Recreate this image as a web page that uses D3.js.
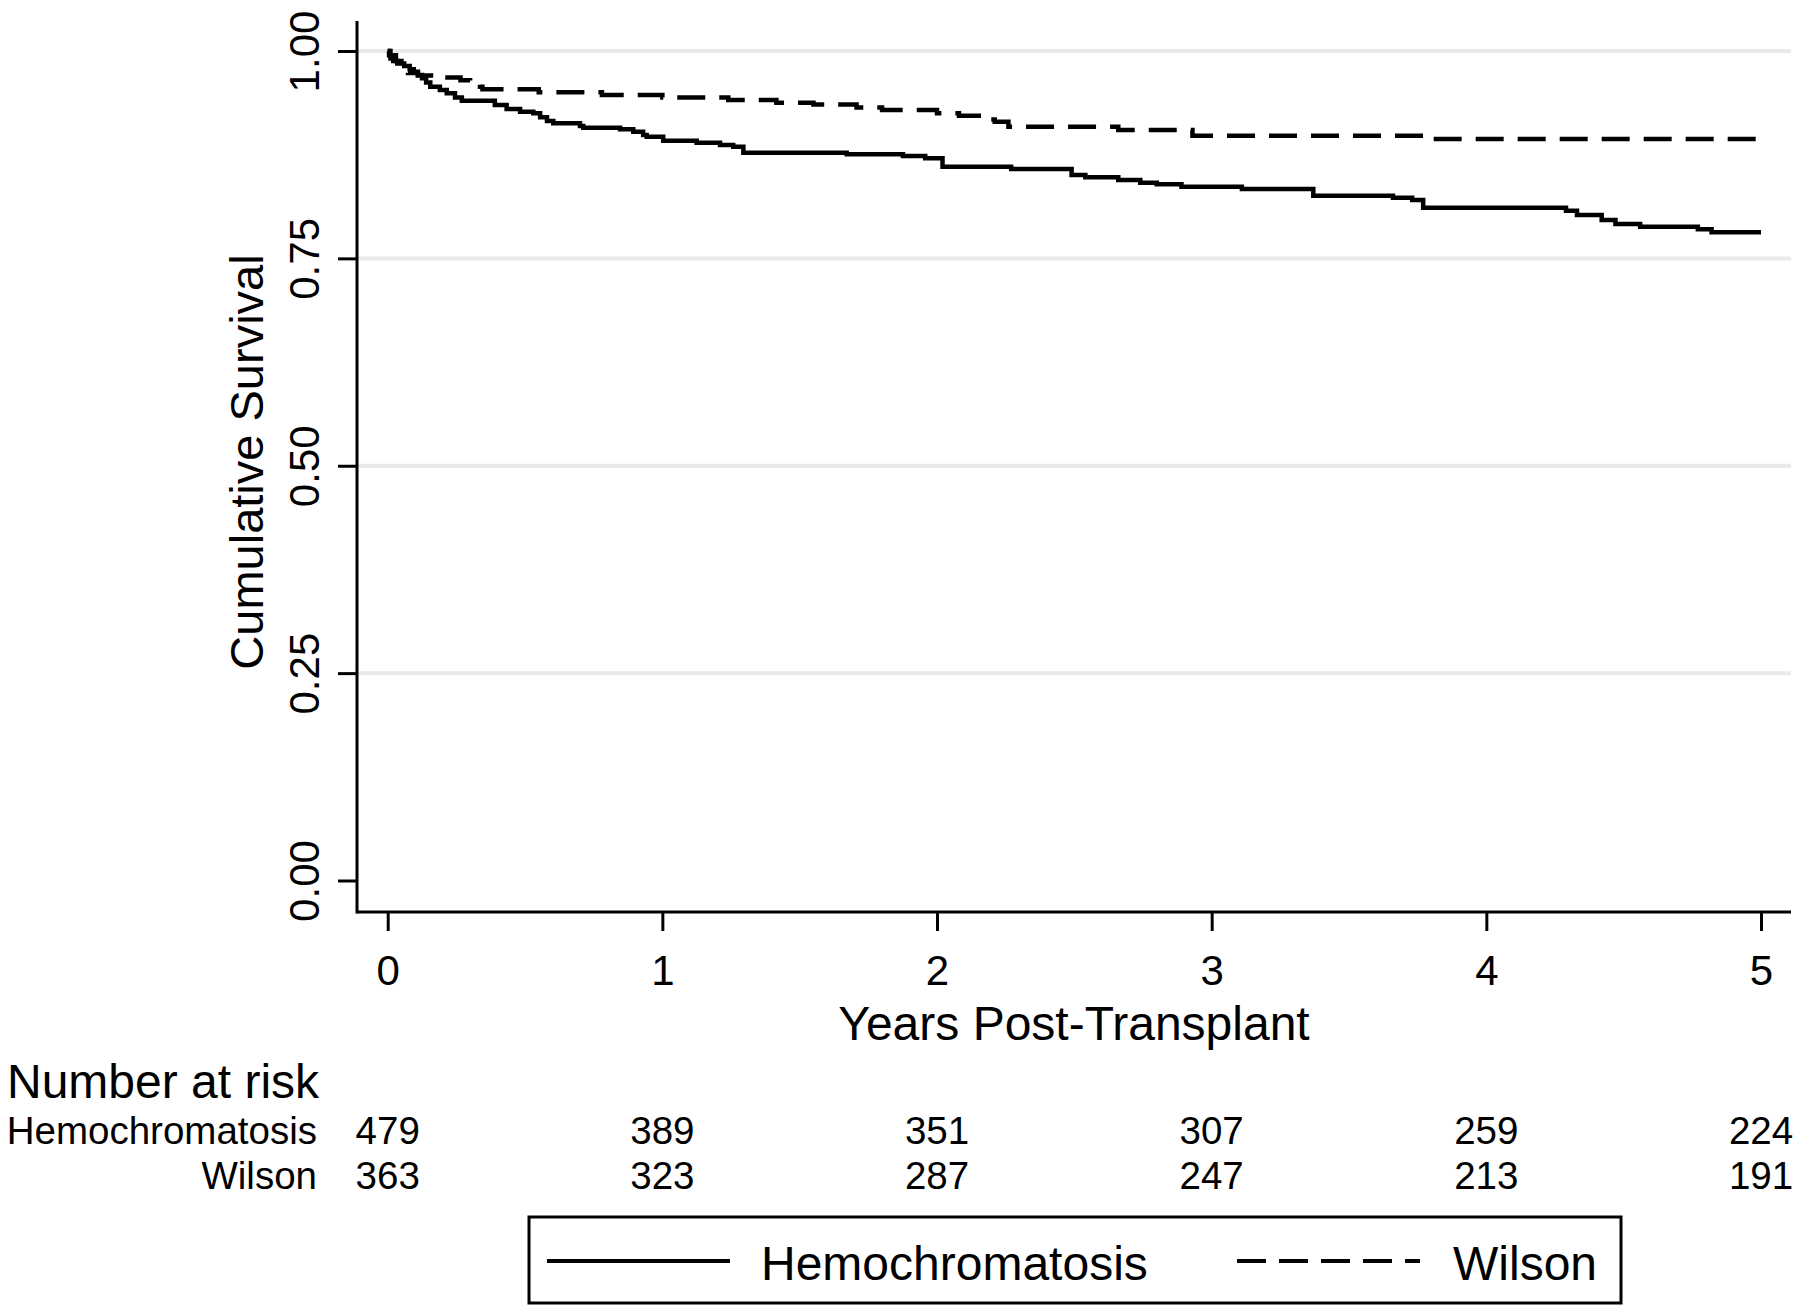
<!DOCTYPE html>
<html><head><meta charset="utf-8">
<script src="https://cdn.jsdelivr.net/npm/d3@7"></script>
<style>
body{margin:0;background:#fff}
svg{display:block}
text{font-family:"Liberation Sans",Arial,Helvetica,sans-serif;fill:#000}
</style>
</head><body>
<svg id="c" width="1800" height="1311"></svg>
<script>
// ---- data ----
const xTicks = [0, 1, 2, 3, 4, 5];
const yTicks = [0, 0.25, 0.5, 0.75, 1];
const gridTicks = [0.25, 0.5, 0.75, 1];
const seriesNames = ["Hemochromatosis", "Wilson"];

const hemoTime = [0, 0.005, 0.01, 0.02, 0.035, 0.06, 0.08, 0.095, 0.11, 0.125, 0.14, 0.155, 0.19, 0.215, 0.245, 0.27,
  0.39, 0.433, 0.482, 0.53, 0.555, 0.58, 0.603, 0.70, 0.712, 0.846, 0.894, 0.93, 0.943, 1.003, 1.125, 1.21, 1.258, 1.295,
  1.671, 1.876, 1.957, 2.02, 2.27, 2.49, 2.54, 2.66, 2.74, 2.80, 2.89, 3.11, 3.37, 3.66, 3.73, 3.77, 4.29, 4.33, 4.42,
  4.47, 4.56, 4.77, 4.82, 5.0];
const hemoSurv = [1.0, 0.995, 0.991, 0.988, 0.985, 0.982, 0.978, 0.975, 0.971, 0.967, 0.962, 0.957, 0.953, 0.949, 0.944, 0.940,
  0.935, 0.930, 0.9268, 0.9249, 0.920, 0.9156, 0.9128, 0.9096, 0.9075, 0.9056, 0.9027, 0.8987, 0.8967, 0.8919, 0.8895, 0.8867, 0.8846, 0.8774,
  0.8754, 0.8734, 0.8706, 0.8605, 0.8577, 0.8505, 0.8477, 0.8445, 0.8413, 0.8393, 0.8364, 0.8336, 0.8256, 0.8232, 0.8204, 0.8111, 0.8075, 0.8023, 0.7963,
  0.7914, 0.7882, 0.785, 0.7814, 0.7814];

const wilsonTime = [0, 0.01, 0.03, 0.05, 0.074, 0.11, 0.19, 0.265, 0.30, 0.336, 0.345, 0.55, 0.78, 1.0, 1.24, 1.415, 1.55,
  1.707, 1.80, 2.0, 2.08, 2.19, 2.21, 2.26, 2.66, 2.93, 3.80, 5.0];
const wilsonSurv = [1.0, 0.995, 0.988, 0.98, 0.9734, 0.9705, 0.9681, 0.9648, 0.961, 0.957, 0.954, 0.9502, 0.947, 0.944, 0.941, 0.9377, 0.9355,
  0.932, 0.9289, 0.9249, 0.922, 0.9175, 0.9148, 0.9088, 0.9048, 0.8979, 0.8939, 0.8939];

const riskHemo = [479, 389, 351, 307, 259, 224];
const riskWilson = [363, 323, 287, 247, 213, 191];

// ---- layout ----
const svg = d3.select("#c");
const FONT = '"Liberation Sans",Arial,Helvetica,sans-serif';
const plotL = 357, plotR = 1791, plotT = 21, plotB = 912;
const x = d3.scaleLinear().domain([0, 5]).range([387.7, 1761]);
const y = d3.scaleLinear().domain([0, 1]).range([880.5, 51]);

// gridlines
svg.append("g").selectAll("line").data(gridTicks).join("line")
  .attr("x1", plotL).attr("x2", plotR)
  .attr("y1", d => y(d)).attr("y2", d => y(d))
  .attr("stroke", "#e9e9e9").attr("stroke-width", 4);

// y axis
const yAxis = d3.axisLeft(y).tickValues(yTicks).tickSize(19).tickSizeOuter(0).tickFormat(d3.format(".2f"));
const gy = svg.append("g").attr("transform", `translate(${plotL},0)`).call(yAxis);
gy.select(".domain").remove();
gy.selectAll(".tick line").attr("stroke", "#000").attr("stroke-width", 3);
gy.selectAll(".tick text")
  .attr("x", null).attr("dy", null)
  .attr("transform", "translate(-38,0) rotate(-90)")
  .attr("text-anchor", "middle")
  .style("font-family", FONT).style("font-size", "42px").attr("fill", "#000");

// x axis
const xAxis = d3.axisBottom(x).tickValues(xTicks).tickSize(19).tickSizeOuter(0).tickFormat(d3.format("d"));
const gx = svg.append("g").attr("transform", `translate(0,${plotB})`).call(xAxis);
gx.select(".domain").remove();
gx.selectAll(".tick line").attr("stroke", "#000").attr("stroke-width", 3);
gx.selectAll(".tick text").attr("y", 73).attr("dy", null)
  .style("font-family", FONT).style("font-size", "42px").attr("fill", "#000");

// axis lines
svg.append("line").attr("x1", plotL).attr("x2", plotL).attr("y1", plotT).attr("y2", plotB + 1.5)
  .attr("stroke", "#000").attr("stroke-width", 3);
svg.append("line").attr("x1", plotL).attr("x2", plotR).attr("y1", plotB).attr("y2", plotB)
  .attr("stroke", "#000").attr("stroke-width", 3);

// axis titles
svg.append("text").attr("transform", "translate(263,462) rotate(-90)")
  .attr("text-anchor", "middle").style("font-size", "47px").text("Cumulative Survival");
svg.append("text").attr("x", (plotL + plotR) / 2).attr("y", 1040)
  .attr("text-anchor", "middle").style("font-size", "48px").text("Years Post-Transplant");

// curves
const line = d3.line().x(d => x(d[0])).y(d => y(d[1])).curve(d3.curveStepAfter);
const hemoData = hemoTime.map((t, i) => [t, hemoSurv[i]]);
const wilsonData = wilsonTime.map((t, i) => [t, wilsonSurv[i]]);
svg.append("path").datum(wilsonData).attr("d", line).attr("fill", "none")
  .attr("stroke", "#000").attr("stroke-width", 4.5).attr("stroke-dasharray", "28,14");
svg.append("path").datum(hemoData).attr("d", line).attr("fill", "none")
  .attr("stroke", "#000").attr("stroke-width", 4.5);

// number at risk
svg.append("text").attr("x", 7).attr("y", 1098).style("font-size", "48px").text("Number at risk");
const rows = [{name: seriesNames[0], vals: riskHemo, yb: 1144}, {name: seriesNames[1], vals: riskWilson, yb: 1189}];
rows.forEach(r => {
  svg.append("text").attr("x", 317).attr("y", r.yb).attr("text-anchor", "end").style("font-size", "38.5px").text(r.name);
  svg.append("g").selectAll("text").data(r.vals).join("text")
    .attr("x", (d, i) => x(xTicks[i])).attr("y", r.yb).attr("text-anchor", "middle")
    .style("font-size", "38.5px").text(d => d);
});

// legend
svg.append("rect").attr("x", 529).attr("y", 1217).attr("width", 1092).attr("height", 86)
  .attr("fill", "#fff").attr("stroke", "#000").attr("stroke-width", 3);
svg.append("line").attr("x1", 547).attr("x2", 730).attr("y1", 1261).attr("y2", 1261)
  .attr("stroke", "#000").attr("stroke-width", 4);
svg.append("text").attr("x", 761).attr("y", 1280).style("font-size", "48px").text(seriesNames[0]);
svg.append("line").attr("x1", 1237).attr("x2", 1420).attr("y1", 1261).attr("y2", 1261)
  .attr("stroke", "#000").attr("stroke-width", 4).attr("stroke-dasharray", "29,13");
svg.append("text").attr("x", 1453).attr("y", 1280).style("font-size", "48px").text(seriesNames[1]);
</script>
</body></html>
